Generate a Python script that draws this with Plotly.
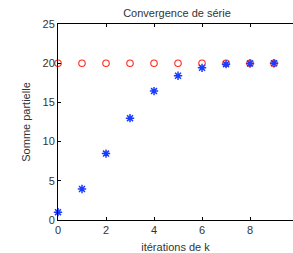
import plotly.graph_objects as go

k = [0, 1, 2, 3, 4, 5, 6, 7, 8, 9]
partial_sums = [1.0, 3.95, 8.47, 12.99, 16.44, 18.39, 19.41, 19.88, 19.97, 20.0]
limit = [20, 20, 20, 20, 20, 20, 20, 20, 20, 20]
x_ticks = [0, 2, 4, 6, 8]
y_ticks = [0, 5, 10, 15, 20, 25]

fig = go.Figure()
fig.add_trace(go.Scatter(
    x=k, y=limit, mode="markers",
    marker=dict(symbol="circle-open", size=6.5, color="#ff2a1a", line=dict(width=1.1)),
    showlegend=False, cliponaxis=False))
fig.add_trace(go.Scatter(
    x=k, y=partial_sums, mode="markers",
    marker=dict(symbol="asterisk-open", size=7, color="#1a3cff", line=dict(width=1.5, color="#1a3cff")),
    showlegend=False, cliponaxis=False))

font = dict(family="Liberation Sans, Arial, sans-serif", size=11, color="#333333")
fig.update_layout(
    width=293, height=253,
    margin=dict(l=58, r=0, t=24, b=33),
    paper_bgcolor="white", plot_bgcolor="white",
    font=font,
    title=dict(text="Convergence de série", x=0.604, xref="container", xanchor="center",
               y=0.948, yref="container", yanchor="middle",
               font=dict(family="Liberation Sans, Arial, sans-serif", size=11, color="#333333")),
    xaxis=dict(range=[0, 9.79], tickvals=x_ticks, showgrid=False, zeroline=False,
               showline=True, linecolor="black", linewidth=1, mirror="ticks",
               ticks="inside", ticklen=3, tickcolor="black",
               title=dict(text="itérations de k", standoff=8, font=dict(size=11))),
    yaxis=dict(range=[0, 25], tickvals=y_ticks, showgrid=False, zeroline=False,
               showline=True, linecolor="black", linewidth=1,
               ticks="inside", ticklen=3, tickcolor="black",
               title=dict(text="Somme partielle", standoff=9, font=dict(size=11))),
)
fig.write_html("out.html", config={"displayModeBar": False},
               post_script="document.body.style.margin='0';document.body.style.overflow='hidden';")
